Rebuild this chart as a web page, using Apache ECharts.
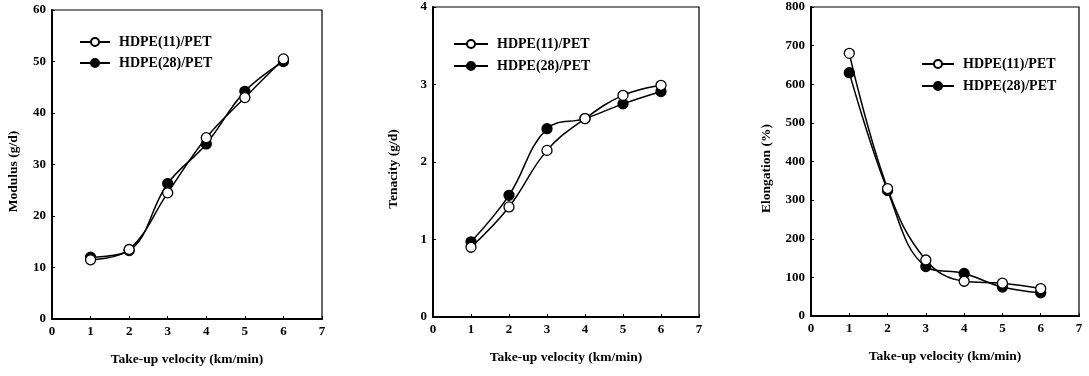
<!DOCTYPE html>
<html>
<head>
<meta charset="utf-8">
<script src="https://cdn.jsdelivr.net/npm/echarts@6/dist/echarts.min.js"></script>
<style>
  html, body { margin: 0; padding: 0; background: #fff; }
  #chart { width: 1089px; height: 376px; }
</style>
</head>
<body>
<div id="chart"></div>
<script>
// take-up velocity (km/min)
const velocity = [1, 2, 3, 4, 5, 6];

// Modulus (g/d)
const modulusHdpe11 = [11.5, 13.5, 24.5, 35.2, 43, 50.5];
const modulusHdpe28 = [12, 13.3, 26.3, 34, 44.2, 50];

// Tenacity (g/d)
const tenacityHdpe11 = [0.9, 1.42, 2.15, 2.56, 2.86, 2.99];
const tenacityHdpe28 = [0.97, 1.57, 2.43, 2.56, 2.75, 2.91];

// Elongation (%)
const elongationHdpe11 = [680, 330, 145, 90, 85, 71];
const elongationHdpe28 = [630, 325, 128, 110, 75, 60];

const seriesNames = ['HDPE(11)/PET', 'HDPE(28)/PET'];
const yNames = ['Modulus (g/d)', 'Tenacity (g/d)', 'Elongation (%)'];
const yMax = [60, 4, 800];
const yStep = [10, 1, 100];

var dom = document.getElementById('chart');
var myChart = echarts.init(dom, null, { renderer: 'canvas' });

const font = 'Liberation Serif';
const grids = [
    { left: 52, top: 10, width: 270, height: 309 },
    { left: 433, top: 7, width: 266, height: 310 },
    { left: 811, top: 7, width: 268, height: 309 }
];
// legend placement per panel
const legendPos = [
    { left: 79, top: 35, gap: 7, w: 30 },
    { left: 453, top: 37, gap: 8, w: 34 },
    { left: 921, top: 57, gap: 8, w: 32 }
];
const yNameGap = [31, 32, 37];

function pairs(ys) {
    return velocity.map((v, i) => [v, ys[i]]);
}

function makeSeries(name, ys, idx, open) {
    return {
        name: name,
        type: 'line',
        xAxisIndex: idx,
        yAxisIndex: idx,
        smooth: 0.4,
        symbol: 'circle',
        symbolSize: 10,
        showSymbol: true,
        lineStyle: { color: '#000', width: 1.5 },
        itemStyle: {
            color: open ? '#fff' : '#000',
            borderColor: '#000',
            borderWidth: 1.3
        },
        z: open ? 3 : 2,
        data: pairs(ys)
    };
}

const labelStyle = { fontFamily: font, fontWeight: 'bold', fontSize: 13, color: '#000' };

const option = {
    animation: false,
    backgroundColor: '#fff',
    textStyle: { fontFamily: font, fontWeight: 'bold', color: '#000' },
    grid: grids.map(g => Object.assign({
        show: true,
        borderColor: '#000',
        borderWidth: 1.2,
        backgroundColor: 'transparent'
    }, g)),
    legend: legendPos.map(p => ({
        left: p.left,
        top: p.top,
        padding: 0,
        orient: 'vertical',
        itemWidth: p.w,
        itemHeight: 10,
        itemGap: p.gap,
        data: seriesNames,
        textStyle: {
            fontFamily: font,
            fontWeight: 'bold',
            fontSize: 14,
            color: '#000',
            padding: [0, 0, 0, 4]
        }
    })),
    xAxis: grids.map((g, i) => ({
        type: 'value',
        gridIndex: i,
        min: 0,
        max: 7,
        interval: 1,
        name: 'Take-up velocity (km/min)',
        nameLocation: 'middle',
        nameGap: 34,
        nameTextStyle: { fontFamily: font, fontWeight: 'bold', fontSize: 13.5, color: '#000' },
        axisLine: { lineStyle: { color: '#000', width: 2 } },
        axisTick: { inside: true, length: 3, lineStyle: { color: '#000' } },
        splitLine: { show: false },
        axisLabel: Object.assign({ margin: 6 }, labelStyle)
    })),
    yAxis: grids.map((g, i) => ({
        type: 'value',
        gridIndex: i,
        min: 0,
        max: yMax[i],
        interval: yStep[i],
        name: yNames[i],
        nameLocation: 'middle',
        nameGap: yNameGap[i],
        nameTextStyle: {
            fontFamily: font, fontWeight: 'bold', fontSize: 13.5, color: '#000',
            padding: [0, 14, 0, 0]
        },
        axisLine: { show: true, lineStyle: { color: '#000', width: 2 } },
        axisTick: { show: true, inside: true, length: 3, lineStyle: { color: '#000' } },
        splitLine: { show: false },
        axisLabel: Object.assign({ margin: 6 }, labelStyle)
    })),
    series: [
        makeSeries(seriesNames[0], modulusHdpe11, 0, true),
        makeSeries(seriesNames[1], modulusHdpe28, 0, false),
        makeSeries(seriesNames[0], tenacityHdpe11, 1, true),
        makeSeries(seriesNames[1], tenacityHdpe28, 1, false),
        makeSeries(seriesNames[0], elongationHdpe11, 2, true),
        makeSeries(seriesNames[1], elongationHdpe28, 2, false)
    ]
};

myChart.setOption(option);
window.addEventListener('resize', myChart.resize);
</script>
</body>
</html>
